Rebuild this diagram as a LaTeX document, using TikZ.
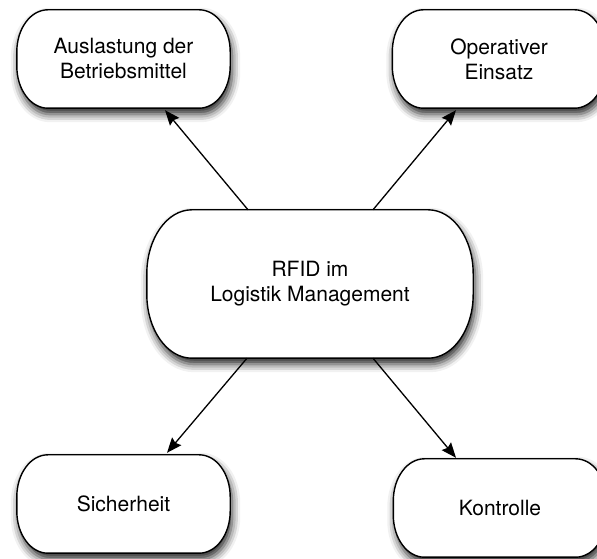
\documentclass[tikz,border=0pt]{standalone}
\usepackage{fontspec}
\setmainfont{TeX Gyre Heros}
\usetikzlibrary{calc,arrows.meta,backgrounds,shadows.blur}

% Outline of a pill box around node #1: elliptic ends with radii #2 (x) and #3 (y)
\newcommand{\pilloutline}[3]{%
  \path[pill]
    ($(#1.north west)+(#2,0)$) -- ($(#1.north east)+(-#2,0)$)
    arc[start angle=90,end angle=0,x radius=#2,y radius=#3]
    -- ($(#1.south east)+(0,#3)$)
    arc[start angle=0,end angle=-90,x radius=#2,y radius=#3]
    -- ($(#1.south west)+(#2,0)$)
    arc[start angle=270,end angle=180,x radius=#2,y radius=#3]
    -- ($(#1.north west)+(0,-#3)$)
    arc[start angle=180,end angle=90,x radius=#2,y radius=#3]
    -- cycle;}

\begin{document}
\begin{tikzpicture}[x=1pt,y=1pt,
  box/.style={rectangle,inner sep=0pt,align=center,
    font=\fontsize{21}{25}\selectfont},
  small/.style={box,minimum width=213pt,minimum height=98pt},
  pill/.style={draw=black,line width=1.4pt,fill=white,
    blur shadow={shadow xshift=2pt,shadow yshift=-6pt,
      shadow blur radius=8pt,shadow opacity=85}},
  arr/.style={line width=1.3pt,-{Stealth[length=15pt,width=12pt,inset=2pt]}}]
  \useasboundingbox (0,0) rectangle (597,559);

  \node[small] (a) at (123.5,500) {Auslastung der\\Betriebsmittel};
  \node[small] (b) at (499,500) {Operativer\\Einsatz};
  \node[box,minimum width=326pt,minimum height=148pt] (c) at (310,275)
    {RFID im\\Logistik Management};
  \node[small] (d) at (123.5,55) {Sicherheit};
  \node[small] (e) at (500,51) {Kontrolle};

  \begin{scope}[on background layer]
    \pilloutline{a}{31}{42}
    \pilloutline{b}{31}{42}
    \pilloutline{d}{31}{42}
    \pilloutline{e}{31}{42}
    \pilloutline{c}{45}{64}
  \end{scope}

  \draw[arr] ([xshift=-62pt]c.north) -- ([xshift=41.5pt,yshift=-2pt]a.south);
  \draw[arr] ([xshift=63pt]c.north) -- ([xshift=-43pt,yshift=-2pt]b.south);
  \draw[arr] ([xshift=-63pt]c.south) -- ([xshift=43.5pt,yshift=2pt]d.north);
  \draw[arr] ([xshift=63pt]c.south) -- ([xshift=-44pt,yshift=1pt]e.north);
\end{tikzpicture}
\end{document}
